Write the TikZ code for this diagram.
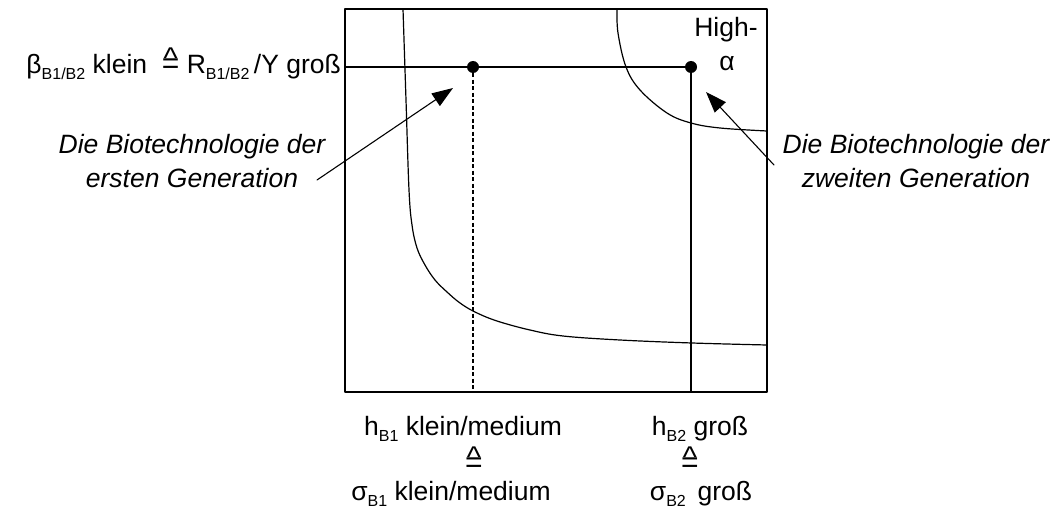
\documentclass[tikz,border=0pt]{standalone}
\usepackage{fontspec}
\setmainfont{Liberation Sans}
\usetikzlibrary{arrows.meta}

\newcommand{\subtx}[1]{\raisebox{-6pt}{\fontsize{16}{16}\selectfont #1}}
\newcommand{\corr}{\mbox{\fontsize{30}{30}\selectfont\ooalign{=\cr\hidewidth\smash{\raisebox{0.16em}{\textasciicircum}}\hidewidth\cr}}}

\tikzset{
  lbl/.style={font=\fontsize{26.5}{34}\selectfont, inner sep=0pt, align=center},
  itl/.style={font=\fontsize{26.5}{34}\selectfont\itshape, inner sep=0pt, align=center},
  dotpt/.style={circle, fill=black, inner sep=0pt, minimum size=12pt},
  pfeil/.style={-{Triangle[length=21pt,width=15pt]}, line width=1.1pt},
}

\begin{document}
\begin{tikzpicture}[x=1pt,y=-1pt,line cap=round,line join=round]
\useasboundingbox (0,0) rectangle (1061,511);

% frame
\coordinate (TL) at (345,9);
\coordinate (BR) at (767,392);
\draw[line width=1.5pt] (TL) rectangle (BR);

% the two points
\node[dotpt] (p1) at (473,67) {};
\node[dotpt] (p2) at (691,67) {};
\coordinate (y1) at (345,67);
\coordinate (x1) at (473,392);
\coordinate (x2) at (691,392);

\draw[line width=1.2pt] (y1) -- (p1) -- (p2);
\draw[line width=1.7pt, dash pattern=on 4pt off 2.5pt, line cap=butt] (p1) -- (x1);
\draw[line width=1.2pt] (p2) -- (x2);

% curves
\draw[line width=1.2pt] plot[smooth, tension=0.6] coordinates {
  (403,9) (406,100) (409,190) (412,225) (417,248) (425,265) (435,280)
  (447,292) (460,303) (475,312) (497,321) (530,330) (563,336) (620,340)
  (692,343) (767,345)};
\draw[line width=1.2pt] plot[smooth, tension=0.6] coordinates {
  (617,9) (618,33) (626,67) (640,90) (667,113) (691,123) (720,128) (767,131)};

% labels on the axes
\node[lbl, anchor=east] (ylab) at (341,67)
  {β\subtx{B1/B2} klein \ \corr\ R\subtx{B1/B2}\,/Y groß};
\node[lbl] (hi) at (726,30) {High-};
\node[lbl] (al) at (727,64) {α};

\node[lbl] (h1) at (463,429) {h\subtx{B1} klein/medium};
\node[lbl] (c1) at (474,465) {\corr};
\node[lbl] (s1) at (451,494) {σ\subtx{B1} klein/medium};
\node[lbl] (h2) at (700,429) {h\subtx{B2} groß};
\node[lbl] (c2) at (690,465) {\corr};
\node[lbl] (s2) at (701,494) {σ\subtx{B2}\, groß};

% generations
\node[itl] (gen1) at (192,161) {Die Biotechnologie der\\ersten Generation};
\node[itl] (gen2) at (916,161) {Die Biotechnologie der\\zweiten Generation};

\coordinate (a1) at (317,180);
\coordinate (t1) at (453,88);
\coordinate (a2) at (774,165);
\coordinate (t2) at (706,92);
\draw[pfeil] (a1) -- (t1);
\draw[pfeil] (a2) -- (t2);

\end{tikzpicture}
\end{document}
